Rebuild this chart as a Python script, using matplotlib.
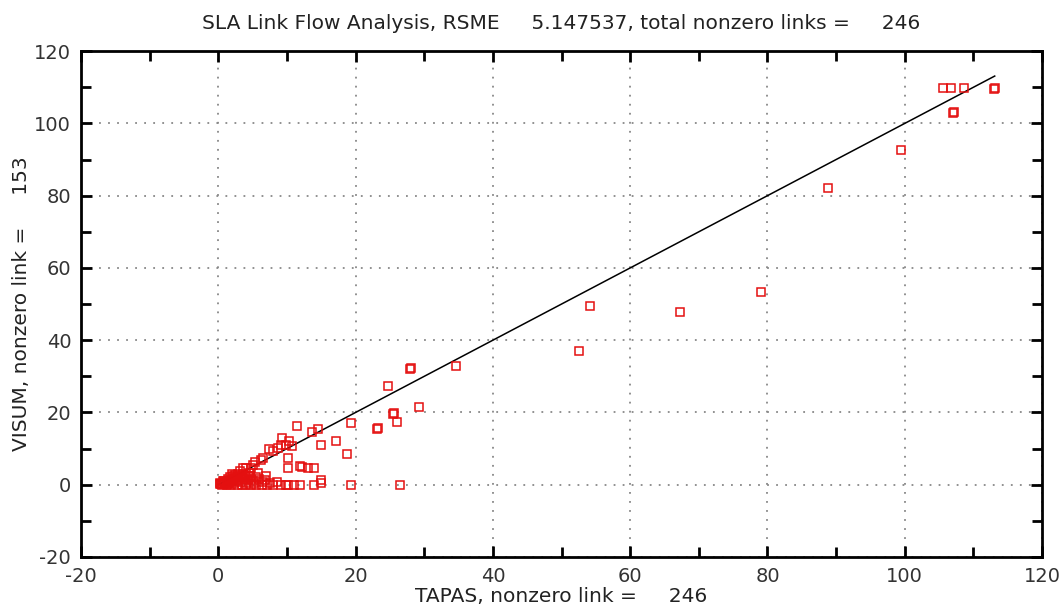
import numpy as np
import matplotlib
matplotlib.use("Agg")
import matplotlib.pyplot as plt
from matplotlib.ticker import MultipleLocator

plt.rcParams["axes.unicode_minus"] = False

# TAPAS (x) vs VISUM (y) link flows
tapas_hi = [113.1, 113.0, 108.6, 106.8, 105.5, 107.1, 107.0, 99.5, 88.8, 79.1, 67.2,
            54.1, 52.6, 34.7, 28.1, 28.0, 24.7, 29.3, 25.6, 25.4, 26.1, 23.2, 23.1,
            19.4, 18.7, 17.1, 14.9, 14.5, 13.6, 11.4]
visum_hi = [109.9, 109.6, 109.9, 109.9, 109.9, 103.1, 102.8, 92.5, 82.2, 53.4, 47.7,
            49.5, 37.1, 32.9, 32.4, 32.1, 27.3, 21.4, 19.8, 19.6, 17.3, 15.7, 15.5,
            17.0, 8.5, 12.2, 10.9, 15.4, 14.5, 16.3]

tapas_mid = [9.3, 10.3, 9.2, 9.9, 10.7, 7.4, 8.7, 10.1, 10.1, 11.9, 12.2, 13.1, 14.0,
             14.9, 15.0, 6.2, 5.3, 3.6, 4.8, 3.1, 6.5, 5.1, 8.0, 4.1]
visum_mid = [12.9, 12.2, 11.0, 10.9, 10.6, 9.9, 10.1, 7.5, 4.5, 5.2, 4.9, 4.5, 4.5,
             1.4, 0.6, 6.9, 6.2, 4.6, 4.6, 3.7, 7.4, 5.5, 9.2, 4.6]

tapas_zero = [4.1, 4.8, 5.5, 6.3, 7.1, 8.0, 9.2, 9.9, 10.2, 11.0, 11.9, 14.0, 19.4, 26.4]
visum_zero = [0.0] * len(tapas_zero)

tapas_lo = [0.2, 0.4, 0.6, 0.8, 1.0, 1.1, 1.3, 1.5, 1.6, 1.8, 2.0, 2.1, 2.3, 2.4, 2.6,
            2.8, 3.0, 3.1, 3.3, 3.5, 3.7, 3.9, 4.1, 4.3, 0.5, 1.2, 1.9, 2.7, 3.4, 0.9,
            1.4, 2.2, 2.9, 3.6, 1.7, 2.5, 0.3, 0.7, 4.5, 4.0, 2.0,
            5.0, 5.5, 6.0, 6.5, 7.0, 4.6, 5.8, 6.8, 7.5, 8.5, 5.2, 4.8]
visum_lo = [0.1, 0.3, 0.2, 0.5, 0.4, 0.8, 0.3, 1.0, 0.6, 1.2, 0.9, 1.5, 0.4, 1.8, 1.1,
            2.0, 1.4, 2.4, 0.8, 2.2, 1.6, 2.8, 2.0, 1.2, 0.0, 0.0, 0.0, 0.0, 0.0, 1.1,
            1.6, 2.4, 2.9, 3.1, 2.1, 2.7, 0.6, 0.9, 3.3, 0.6, 3.0,
            1.0, 2.0, 1.5, 0.8, 2.5, 2.5, 3.2, 1.2, 0.5, 0.8, 0.4, 1.5]

tapas = tapas_hi + tapas_mid + tapas_zero + tapas_lo
visum = visum_hi + visum_mid + visum_zero + visum_lo

title = "SLA Link Flow Analysis, RSME     5.147537, total nonzero links =     246"
xlab = "TAPAS, nonzero link =     246"
ylab = "VISUM, nonzero link =     153"

fig = plt.figure(figsize=(10.64, 6.16), dpi=100)
ax = fig.add_axes([0.0761, 0.0958, 0.9033, 0.8212])

lmax = max(tapas)
ax.plot([0, lmax], [0, lmax], color="black", lw=1.1, zorder=2)
ax.plot(tapas, visum, ls="none", marker="s", ms=5.5, mfc="none", mec="#e41010",
        mew=1.1, zorder=3)

ax.set_xlim(-20, 120)
ax.set_ylim(-20, 120)
ax.xaxis.set_major_locator(MultipleLocator(20))
ax.yaxis.set_major_locator(MultipleLocator(20))
ax.xaxis.set_minor_locator(MultipleLocator(10))
ax.yaxis.set_minor_locator(MultipleLocator(10))
ax.tick_params(which="both", direction="in", top=True, right=True, width=2,
               labelsize=14, labelcolor="#333333")
ax.tick_params(which="major", length=8, pad=7)
ax.tick_params(which="minor", length=7)
ax.grid(True, which="major", ls=(0, (1, 4)), color="#888888", lw=1.3)
for s in ax.spines.values():
    s.set_linewidth(2)

ax.set_title(title, fontsize=14.5, pad=16, color="#222222")
ax.set_xlabel(xlab, fontsize=14.5, labelpad=1, color="#222222")
ax.set_ylabel(ylab, fontsize=14.5, labelpad=2, color="#222222")

fig.savefig("out.png", dpi=100)
